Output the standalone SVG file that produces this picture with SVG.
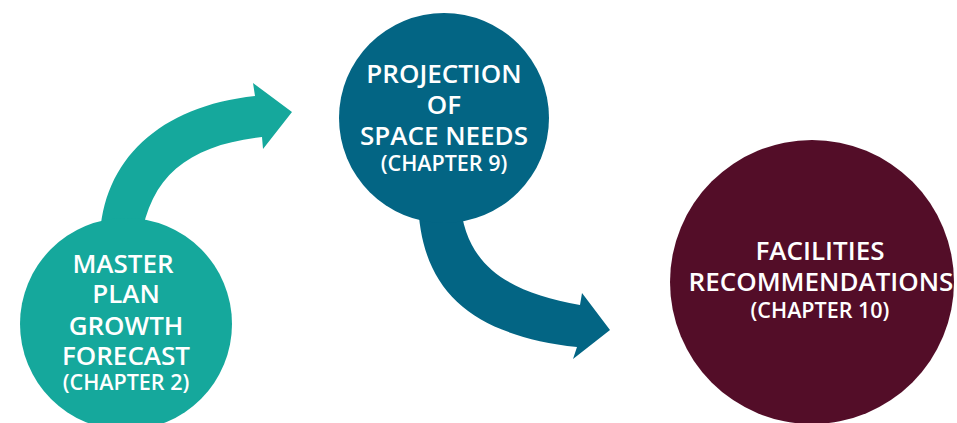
<svg xmlns="http://www.w3.org/2000/svg" width="957" height="423" viewBox="0 0 957 423">
<style>
.t{font-family:"Open Sans","Noto Sans","Liberation Sans",sans-serif;font-weight:600;fill:#ffffff;text-anchor:middle}
.m{font-size:26px}
.c{font-size:21.5px}
</style>
<rect width="957" height="423" fill="#ffffff"/>
<g id="connectors">
<path d="M100,240 C102,160 160,106 255,96 L253,83 L292,112 L263,149 L262,137 C190,145 150,175 141,240 Z" fill="#15A89C"/>
<path d="M418,200 C420,290 470,335 577,347 L573,359 L610,330 L582,293 L580,305 C510,292 465,268 460,200 Z" fill="#036584"/>
</g>
<g id="node-growth">
<circle cx="126" cy="324" r="106" fill="#15A89C"/>
<text class="t m" x="123" y="273">MASTER</text>
<text class="t m" x="126" y="303">PLAN</text>
<text class="t m" x="126" y="335">GROWTH</text>
<text class="t m" x="126" y="365">FORECAST</text>
<text class="t c" x="126" y="390">(CHAPTER 2)</text>
</g>
<g id="node-space">
<circle cx="444" cy="118" r="105" fill="#036584"/>
<text class="t m" x="444" y="83">PROJECTION</text>
<text class="t m" x="444" y="114">OF</text>
<text class="t m" x="444" y="145">SPACE NEEDS</text>
<text class="t c" x="444" y="171">(CHAPTER 9)</text>
</g>
<g id="node-facilities">
<circle cx="812" cy="282" r="142" fill="#530D28"/>
<text class="t m" x="820" y="260">FACILITIES</text>
<text class="t m" x="821" y="291">RECOMMENDATIONS</text>
<text class="t c" x="820" y="318">(CHAPTER 10)</text>
</g>
</svg>
